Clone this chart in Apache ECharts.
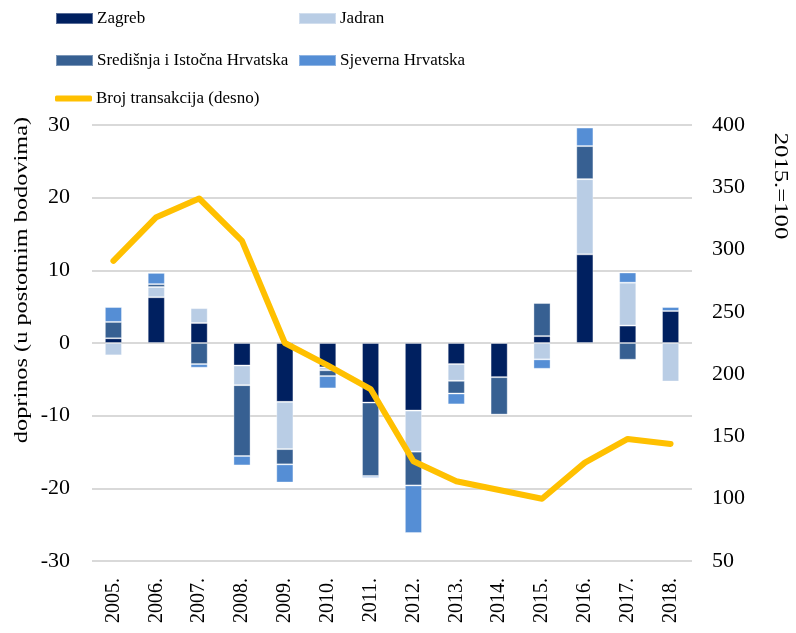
<!DOCTYPE html>
<html>
<head>
<meta charset="utf-8">
<script src="https://cdn.jsdelivr.net/npm/echarts@6/dist/echarts.min.js"></script>
<style>
    html, body { margin: 0; padding: 0; background: #fff; }
    #chart { width: 796px; height: 633px; }
</style>
</head>
<body>
<div id="chart"></div>
<script>
    // podaci
    var years = ['2005.', '2006.', '2007.', '2008.', '2009.', '2010.', '2011.', '2012.', '2013.', '2014.', '2015.', '2016.', '2017.', '2018.'];
    var zagreb = [0.65, 6.3, 2.75, -3.1, -8.1, -3.35, -8.2, -9.3, -2.9, -4.7, 0.95, 12.2, 2.4, 4.4];
    var jadran = [-1.7, 1.4, 2.05, -2.7, -6.5, -0.4, 0, -5.65, -2.3, 0.1, -2.25, 10.35, 5.9, -5.3];
    var sredisnja = [2.25, 0.4, -2.9, -9.75, -2.1, -0.8, -10.1, -4.65, -1.75, -5.15, 4.55, 4.55, -2.3, 0];
    var sjeverna = [2.05, 1.55, -0.5, -1.3, -2.5, -1.7, -0.25, -6.55, -1.5, 0.1, -1.3, 2.55, 1.4, 0.55];
    var transakcije = [291, 326, 341, 307, 225, 207, 188, 130, 114, 107, 100, 129, 148, 144];
    var leftTicks = { min: -30, max: 30, interval: 10 };
    var rightTicks = { min: 50, max: 400, interval: 50 };

    var font = 'Liberation Serif, Times New Roman, serif';
    var myChart = echarts.init(document.getElementById('chart'));

    function barSeries(name, data, color) {
        return {
            name: name,
            type: 'bar',
            stack: 'regije',
            barWidth: '40%',
            data: data,
            itemStyle: { color: color, borderColor: 'rgba(255,255,255,0.35)', borderWidth: 1 }
        };
    }

    function legendAt(name, left, top, icon, h) {
        return {
            data: [{ name: name, icon: icon }],
            left: left,
            top: top,
            padding: 0,
            itemWidth: 37,
            itemHeight: h,
            itemGap: 0,
            selectedMode: false,
            textStyle: { fontFamily: font, fontSize: 17, color: '#000', padding: [0, 0, 0, -1] }
        };
    }

    var options = {
        animation: false,
        grid: { left: 92, right: 104, top: 125, bottom: 72 },
        legend: [
            legendAt('Zagreb', 55, 10, 'rect', 11),
            legendAt('Jadran', 298, 10, 'rect', 11),
            legendAt('Središnja i Istočna Hrvatska', 55, 52, 'rect', 11),
            legendAt('Sjeverna Hrvatska', 298, 52, 'rect', 11),
            legendAt('Broj transakcija (desno)', 55, 90, 'roundRect', 6)
        ],
        xAxis: {
            type: 'category',
            data: years,
            axisLine: { show: false },
            axisTick: { show: false },
            axisLabel: { rotate: 90, margin: 17, fontFamily: font, fontSize: 20, color: '#000' }
        },
        yAxis: [
            {
                type: 'value',
                min: leftTicks.min,
                max: leftTicks.max,
                interval: leftTicks.interval,
                axisLine: { show: false },
                axisTick: { show: false },
                axisLabel: { margin: 22, fontFamily: font, fontSize: 22, color: '#000' },
                splitLine: { show: true, lineStyle: { color: '#d9d9d9', width: 2 } }
            },
            {
                type: 'value',
                min: rightTicks.min,
                max: rightTicks.max,
                interval: rightTicks.interval,
                axisLine: { show: false },
                axisTick: { show: false },
                axisLabel: { margin: 20, fontFamily: font, fontSize: 22, color: '#000' },
                splitLine: { show: false }
            }
        ],
        graphic: [
            {
                type: 'text',
                x: 22, y: 280, rotation: Math.PI / 2, scaleX: 1.28,
                style: {
                    text: 'doprinos (u postotnim bodovima)',
                    font: '19px ' + font, fill: '#000',
                    align: 'center', verticalAlign: 'middle'
                }
            },
            {
                type: 'text',
                x: 780, y: 186, rotation: -Math.PI / 2, scaleX: 1.3,
                style: {
                    text: '2015.=100',
                    font: '19px ' + font, fill: '#000',
                    align: 'center', verticalAlign: 'middle'
                }
            }
        ],
        series: [
            barSeries('Zagreb', zagreb, '#002060'),
            barSeries('Jadran', jadran, '#b9cde5'),
            barSeries('Središnja i Istočna Hrvatska', sredisnja, '#376092'),
            barSeries('Sjeverna Hrvatska', sjeverna, '#558ed5'),
            {
                name: 'Broj transakcija (desno)',
                type: 'line',
                yAxisIndex: 1,
                data: transakcije,
                symbol: 'none',
                z: 5,
                itemStyle: { color: '#ffc000' },
                lineStyle: { color: '#ffc000', width: 6, cap: 'round', join: 'round' }
            }
        ]
    };

    myChart.setOption(options);
    window.addEventListener('resize', myChart.resize);
</script>
</body>
</html>
